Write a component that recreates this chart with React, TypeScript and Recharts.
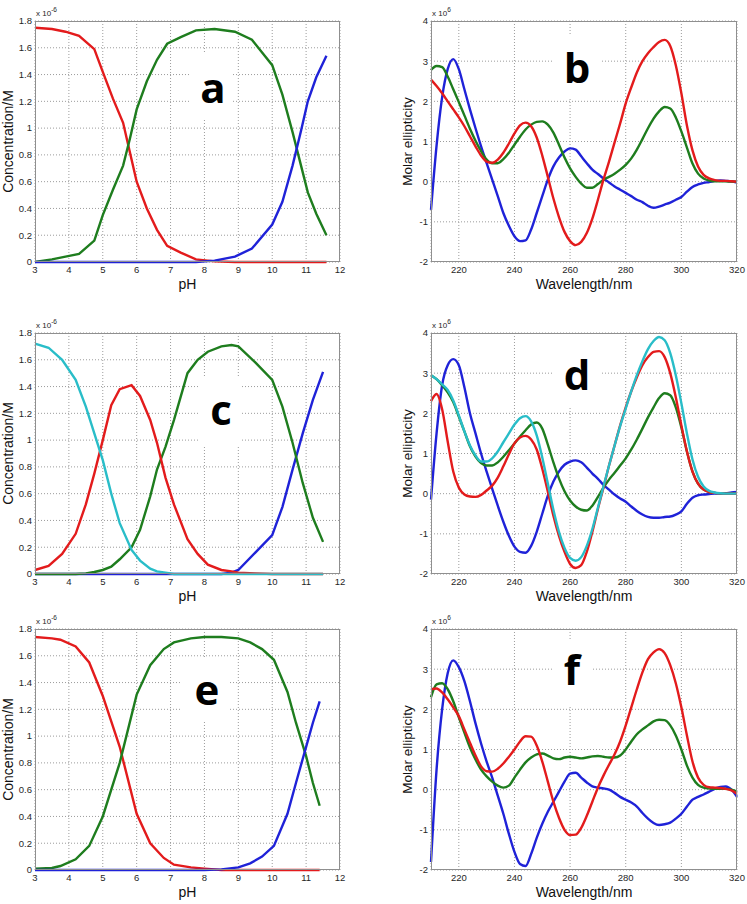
import { LineChart, Line, XAxis, YAxis, CartesianGrid } from "recharts";

// ── Colours ────────────────────────────────────────────────────────────
const RED = "#e31b1c";
const GREEN = "#1e7d1e";
const BLUE = "#1f22d8";
const CYAN = "#29bdc8";

// ── Axis ticks ─────────────────────────────────────────────────────────
const PH_TICKS = [3, 4, 5, 6, 7, 8, 9, 10, 11, 12];
const CONC_TICKS = [0, 0.2, 0.4, 0.6, 0.8, 1, 1.2, 1.4, 1.6, 1.8];
const WL_TICKS = [220, 240, 260, 280, 300, 320];
const ELL_TICKS = [-2, -1, 0, 1, 2, 3, 4];

// ── Panel a (speciation, concentration x 1e-6 M) ───────────────────────
const A_PH = [3, 3.5, 3.9, 4.3, 4.75, 5.0, 5.3, 5.6, 5.8, 6.0, 6.3, 6.6, 6.9, 7.3, 7.75, 8.3, 8.9, 9.4, 10.0, 10.3, 10.6, 10.85, 11.05, 11.3, 11.6];
const A_RED = [1.75, 1.74, 1.72, 1.69, 1.59, 1.42, 1.22, 1.04, 0.82, 0.6, 0.4, 0.24, 0.12, 0.07, 0.02, 0.005, 0, 0, 0, 0, 0, 0, 0, 0, 0];
const A_GREEN = [0, 0.02, 0.04, 0.06, 0.16, 0.35, 0.54, 0.72, 0.92, 1.14, 1.35, 1.51, 1.63, 1.68, 1.73, 1.74, 1.72, 1.66, 1.47, 1.25, 0.97, 0.72, 0.52, 0.36, 0.2];
const A_BLUE = [0, 0, 0, 0, 0, 0, 0, 0, 0, 0, 0, 0, 0, 0, 0, 0.01, 0.04, 0.1, 0.28, 0.45, 0.72, 0.98, 1.2, 1.38, 1.54];

// ── Panel c ────────────────────────────────────────────────────────────
const C_PH = [3, 3.4, 3.8, 4.2, 4.5, 4.75, 5.0, 5.25, 5.5, 5.85, 6.1, 6.4, 6.6, 6.85, 7.1, 7.5, 7.8, 8.1, 8.5, 8.8, 9.0, 9.5, 10.0, 10.3, 10.6, 10.9, 11.2, 11.5];
const C_CYAN = [1.72, 1.69, 1.6, 1.45, 1.25, 1.05, 0.85, 0.6, 0.38, 0.18, 0.1, 0.04, 0.02, 0.01, 0, 0, 0, 0, 0, 0, 0, 0, 0, 0, 0, 0, 0, 0];
const C_RED = [0.03, 0.06, 0.15, 0.3, 0.52, 0.75, 1.0, 1.26, 1.38, 1.41, 1.33, 1.15, 0.98, 0.72, 0.52, 0.26, 0.15, 0.07, 0.03, 0.02, 0.01, 0.005, 0, 0, 0, 0, 0, 0];
const C_GREEN = [0, 0, 0, 0, 0.005, 0.015, 0.03, 0.055, 0.11, 0.2, 0.33, 0.58, 0.78, 0.95, 1.15, 1.5, 1.6, 1.66, 1.7, 1.71, 1.7, 1.58, 1.45, 1.25, 0.98, 0.68, 0.42, 0.24];
const C_BLUE = [0, 0, 0, 0, 0, 0, 0, 0, 0, 0, 0, 0, 0, 0, 0, 0, 0, 0, 0, 0.01, 0.03, 0.16, 0.29, 0.5, 0.78, 1.05, 1.3, 1.51];

// ── Panel e ────────────────────────────────────────────────────────────
const E_PH = [3, 3.5, 3.75, 4.2, 4.6, 5.0, 5.5, 6.0, 6.4, 6.8, 7.1, 7.6, 8.0, 8.5, 9.0, 9.35, 9.7, 10.05, 10.45, 10.7, 11.0, 11.2, 11.4];
const E_RED = [1.74, 1.73, 1.72, 1.67, 1.55, 1.3, 0.92, 0.42, 0.2, 0.09, 0.04, 0.02, 0.01, 0, 0, 0, 0, 0, 0, 0, 0, 0, 0];
const E_GREEN = [0.01, 0.015, 0.03, 0.08, 0.18, 0.4, 0.8, 1.31, 1.53, 1.65, 1.7, 1.73, 1.74, 1.74, 1.73, 1.7, 1.65, 1.57, 1.33, 1.1, 0.85, 0.65, 0.48];
const E_BLUE = [0, 0, 0, 0, 0, 0, 0, 0, 0, 0, 0, 0, 0, 0.005, 0.02, 0.05, 0.1, 0.18, 0.42, 0.65, 0.92, 1.1, 1.26];

// ── CD spectra (molar ellipticity x 1e6), 2 nm steps ───────────────────
const WL = [210, 212, 214, 216, 218, 220, 222, 224, 226, 228, 230, 232, 234, 236, 238, 240, 242, 244, 246, 248, 250, 252, 254, 256, 258, 260, 262, 264, 266, 268, 270, 272, 274, 276, 278, 280, 282, 284, 286, 288, 290, 292, 294, 296, 298, 300, 302, 304, 306, 308, 310, 312, 314, 316, 318, 320];

const B_BLUE = [-0.7, 0.9, 2.1, 2.8, 3.05, 2.8, 2.3, 1.8, 1.33, 0.88, 0.46, 0.05, -0.36, -0.78, -1.1, -1.36, -1.48, -1.46, -1.19, -0.78, -0.36, 0.05, 0.38, 0.6, 0.75, 0.83, 0.8, 0.63, 0.46, 0.3, 0.19, 0.08, -0.02, -0.12, -0.2, -0.28, -0.36, -0.45, -0.51, -0.6, -0.65, -0.62, -0.57, -0.52, -0.45, -0.38, -0.25, -0.13, -0.07, -0.03, -0.01, 0.02, 0.03, 0.02, 0.01, -0.02];
const B_RED = [2.54, 2.38, 2.2, 2.0, 1.8, 1.6, 1.38, 1.13, 0.88, 0.65, 0.5, 0.47, 0.55, 0.72, 0.95, 1.2, 1.4, 1.47, 1.38, 1.1, 0.65, 0.12, -0.42, -0.88, -1.25, -1.48, -1.58, -1.5, -1.28, -0.92, -0.45, 0.05, 0.5, 0.98, 1.45, 1.95, 2.35, 2.72, 3.0, 3.2, 3.35, 3.48, 3.53, 3.38, 2.9, 2.2, 1.4, 0.78, 0.38, 0.17, 0.08, 0.04, 0.02, 0.02, 0.01, 0];
const B_GREEN = [2.78, 2.88, 2.85, 2.62, 2.3, 1.98, 1.65, 1.32, 1.02, 0.76, 0.55, 0.46, 0.46, 0.56, 0.72, 0.92, 1.12, 1.3, 1.42, 1.49, 1.5, 1.42, 1.22, 0.92, 0.6, 0.33, 0.12, -0.05, -0.15, -0.15, -0.06, 0.05, 0.12, 0.2, 0.3, 0.42, 0.58, 0.8, 1.06, 1.33, 1.57, 1.75, 1.86, 1.82, 1.6, 1.25, 0.85, 0.45, 0.2, 0.08, 0.03, 0.01, 0.01, 0.01, 0, 0];

const D_BLUE = [-0.15, 1.5, 2.7, 3.2, 3.35, 3.2, 2.65, 2.0, 1.5, 1.0, 0.55, 0.12, -0.3, -0.7, -1.05, -1.32, -1.45, -1.47, -1.3, -0.95, -0.5, -0.05, 0.3, 0.55, 0.72, 0.8, 0.83, 0.78, 0.65, 0.5, 0.37, 0.22, 0.1, -0.02, -0.12, -0.2, -0.32, -0.43, -0.52, -0.58, -0.6, -0.6, -0.58, -0.57, -0.52, -0.44, -0.25, -0.1, -0.04, -0.02, -0.01, 0, 0, 0.01, 0.03, 0.04];
const D_RED = [2.3, 2.48, 2.1, 1.3, 0.55, 0.15, -0.02, -0.07, -0.08, -0.03, 0.08, 0.2, 0.4, 0.68, 0.98, 1.25, 1.4, 1.44, 1.35, 1.1, 0.62, 0.05, -0.55, -1.05, -1.45, -1.75, -1.85, -1.78, -1.45, -0.95, -0.38, 0.15, 0.7, 1.2, 1.7, 2.15, 2.55, 2.9, 3.2, 3.4, 3.53, 3.55, 3.4, 3.0, 2.4, 1.7, 1.05, 0.55, 0.25, 0.1, 0.04, 0.02, 0.01, 0, 0, 0];
const D_CYAN = [2.95, 2.85, 2.72, 2.58, 2.32, 1.95, 1.55, 1.2, 0.95, 0.8, 0.8, 0.88, 1.05, 1.28, 1.5, 1.72, 1.88, 1.93, 1.8, 1.45, 0.9, 0.25, -0.4, -0.95, -1.35, -1.6, -1.67, -1.58, -1.3, -0.88, -0.35, 0.18, 0.7, 1.2, 1.68, 2.12, 2.55, 2.95, 3.3, 3.6, 3.8, 3.9, 3.82, 3.5, 2.95, 2.25, 1.5, 0.85, 0.42, 0.18, 0.07, 0.03, 0.01, 0, 0, 0];
const D_GREEN = [2.95, 2.85, 2.7, 2.52, 2.28, 1.92, 1.55, 1.18, 0.92, 0.76, 0.7, 0.7, 0.78, 0.92, 1.08, 1.25, 1.42, 1.58, 1.72, 1.77, 1.62, 1.22, 0.78, 0.38, 0.06, -0.17, -0.32, -0.4, -0.42, -0.3, -0.08, 0.15, 0.35, 0.52, 0.7, 0.88, 1.1, 1.35, 1.62, 1.9, 2.15, 2.38, 2.5, 2.45, 2.15, 1.65, 1.05, 0.55, 0.25, 0.1, 0.04, 0.02, 0.01, 0, 0, 0];

const F_BLUE = [-1.8, 0.5, 2.0, 2.9, 3.22, 3.05, 2.7, 2.2, 1.65, 1.15, 0.7, 0.3, -0.15, -0.6, -1.1, -1.55, -1.85, -1.9, -1.6, -1.2, -0.85, -0.55, -0.3, -0.05, 0.2, 0.4, 0.42, 0.3, 0.18, 0.08, 0.05, 0.03, 0, -0.08, -0.18, -0.25, -0.32, -0.42, -0.58, -0.72, -0.83, -0.88, -0.86, -0.82, -0.72, -0.6, -0.42, -0.25, -0.18, -0.12, -0.05, 0.02, 0.07, 0.08, 0, -0.18];
const F_RED = [2.5, 2.52, 2.42, 2.25, 2.05, 1.83, 1.5, 1.17, 0.85, 0.58, 0.46, 0.45, 0.52, 0.65, 0.82, 1.0, 1.2, 1.33, 1.32, 1.1, 0.7, 0.2, -0.3, -0.7, -1.0, -1.13, -1.12, -0.95, -0.65, -0.3, 0.05, 0.35, 0.62, 0.88, 1.2, 1.6, 2.05, 2.5, 2.92, 3.25, 3.42, 3.5, 3.4, 3.1, 2.65, 2.05, 1.35, 0.7, 0.3, 0.12, 0.06, 0.05, 0.04, 0.02, -0.02, -0.1];
const F_GREEN = [2.3, 2.62, 2.65, 2.5, 2.2, 1.8, 1.42, 1.05, 0.75, 0.5, 0.33, 0.2, 0.1, 0.05, 0.1, 0.3, 0.5, 0.68, 0.8, 0.88, 0.9, 0.85, 0.78, 0.76, 0.8, 0.82, 0.8, 0.78, 0.8, 0.83, 0.84, 0.82, 0.8, 0.8, 0.85, 1.0, 1.2, 1.38, 1.5, 1.6, 1.7, 1.74, 1.73, 1.6, 1.35, 1.0, 0.6, 0.3, 0.12, 0.05, 0.03, 0.02, 0.02, 0.02, 0, -0.05];

// ── Types ──────────────────────────────────────────────────────────────
type Series = { key: string; color: string; values: number[] };
type Box = { x: number; y: number; w: number; h: number };
type PanelDef = {
  letter: string;
  left: number; top: number; w: number; h: number;
  xs: number[];
  series: Series[];
  spectrum: boolean;
  box: Box;
  letterX: number; letterY: number;
};

const PANELS: PanelDef[] = [
  {
    letter: "a", left: 35, top: 21, w: 305, h: 241, xs: A_PH, spectrum: false,
    series: [
      { key: "red", color: RED, values: A_RED },
      { key: "green", color: GREEN, values: A_GREEN },
      { key: "blue", color: BLUE, values: A_BLUE },
    ],
    box: { x: 190, y: 52, w: 41, h: 66 }, letterX: 213, letterY: 103,
  },
  {
    letter: "b", left: 431, top: 21, w: 306, h: 241, xs: WL, spectrum: true,
    series: [
      { key: "blue", color: BLUE, values: B_BLUE },
      { key: "green", color: GREEN, values: B_GREEN },
      { key: "red", color: RED, values: B_RED },
    ],
    box: { x: 552, y: 36, w: 50, h: 62 }, letterX: 577, letterY: 83,
  },
  {
    letter: "c", left: 35, top: 333, w: 305, h: 241, xs: C_PH, spectrum: false,
    series: [
      { key: "blue", color: BLUE, values: C_BLUE },
      { key: "green", color: GREEN, values: C_GREEN },
      { key: "red", color: RED, values: C_RED },
      { key: "cyan", color: CYAN, values: C_CYAN },
    ],
    box: { x: 200, y: 376, w: 42, h: 70 }, letterX: 221, letterY: 425,
  },
  {
    letter: "d", left: 431, top: 333, w: 306, h: 241, xs: WL, spectrum: true,
    series: [
      { key: "blue", color: BLUE, values: D_BLUE },
      { key: "green", color: GREEN, values: D_GREEN },
      { key: "red", color: RED, values: D_RED },
      { key: "cyan", color: CYAN, values: D_CYAN },
    ],
    box: { x: 552, y: 336, w: 50, h: 72 }, letterX: 577, letterY: 390,
  },
  {
    letter: "e", left: 35, top: 629, w: 305, h: 241, xs: E_PH, spectrum: false,
    series: [
      { key: "red", color: RED, values: E_RED },
      { key: "green", color: GREEN, values: E_GREEN },
      { key: "blue", color: BLUE, values: E_BLUE },
    ],
    box: { x: 182, y: 658, w: 48, h: 64 }, letterX: 207, letterY: 705,
  },
  {
    letter: "f", left: 431, top: 629, w: 306, h: 241, xs: WL, spectrum: true,
    series: [
      { key: "blue", color: BLUE, values: F_BLUE },
      { key: "green", color: GREEN, values: F_GREEN },
      { key: "red", color: RED, values: F_RED },
    ],
    box: { x: 552, y: 640, w: 40, h: 66 }, letterX: 572, letterY: 685,
  },
];

// ── Layout constants ───────────────────────────────────────────────────
const YW = 34;   // y-axis width
const MT = 10;   // top margin (room for the top tick label)
const MR = 14;   // right margin (room for the last tick label)
const XH = 16;   // x-axis height
const FONT = "'Liberation Sans', Arial, sans-serif";
const TICK = { fontSize: 9.5, fill: "#262626", fontFamily: FONT };

function buildRows(xs: number[], series: Series[]) {
  return xs.map((x, i) => {
    const row: Record<string, number> = { x };
    series.forEach((s) => { row[s.key] = s.values[i]; });
    return row;
  });
}

// ── One matlab-style panel ─────────────────────────────────────────────
function Panel({ p }: { p: PanelDef }) {
  const data = buildRows(p.xs, p.series);
  return (
    <div style={{ position: "absolute", left: p.left - YW, top: p.top - MT }}>
      <LineChart
        width={YW + p.w + MR}
        height={MT + p.h + XH}
        data={data}
        margin={{ top: MT, right: MR, left: 0, bottom: 0 }}
      >
        <CartesianGrid stroke="#9c9c9c" strokeDasharray="1 2" />
        <XAxis
          dataKey="x" type="number"
          domain={p.spectrum ? [210, 320] : [3, 12]}
          ticks={p.spectrum ? WL_TICKS : PH_TICKS}
          interval={0} height={XH}
          axisLine={false} tickLine={false} tickSize={3} tickMargin={1}
          tick={TICK}
        />
        <YAxis
          type="number"
          domain={p.spectrum ? [-2, 4] : [0, 1.8]}
          ticks={p.spectrum ? ELL_TICKS : CONC_TICKS}
          interval={0} width={YW}
          axisLine={false} tickLine={false} tickSize={2} tickMargin={1}
          tick={TICK}
        />
        {p.series.map((s) => (
          <Line
            key={s.key} dataKey={s.key} stroke={s.color} strokeWidth={2.4}
            type={p.spectrum ? "monotone" : "linear"} dot={false} activeDot={false}
            isAnimationActive={false}
          />
        ))}
      </LineChart>
    </div>
  );
}

// ── Text overlay: frames, axis titles, exponents, panel letters ────────
function Overlay() {
  return (
    <svg width={747} height={904} style={{ position: "absolute", left: 0, top: 0, pointerEvents: "none" }}>
      {PANELS.map((p) => {
        const yLabelX = p.spectrum ? 407 : 8.5;
        return (
          <g key={p.letter}>
            <rect x={p.left + 0.5} y={p.top + 0.5} width={p.w - 1} height={p.h - 1} fill="none" stroke="#8f8f8f" strokeWidth={1} />
            <text
              transform={`translate(${yLabelX},${p.top + p.h / 2}) rotate(-90)`}
              textAnchor="middle" dy="0.35em" fontSize={p.spectrum ? 13.5 : 14}
              fontFamily={FONT} fill="#111"
            >
              {p.spectrum ? "Molar ellipticity" : "Concentration/M"}
            </text>
            <text x={p.left + p.w / 2} y={p.top + p.h + 27} textAnchor="middle" fontSize={14} fontFamily={FONT} fill="#111">
              {p.spectrum ? "Wavelength/nm" : "pH"}
            </text>
            <text x={p.left + 1} y={p.top - 5} fontSize={8} fontFamily={FONT} fill="#262626">
              x 10<tspan dy={-4} fontSize={6.5}>{p.spectrum ? "6" : "-6"}</tspan>
            </text>
            <rect x={p.box.x} y={p.box.y} width={p.box.w} height={p.box.h} fill="#fff" />
            <text x={p.letterX} y={p.letterY} textAnchor="middle" fontSize={42} fontWeight={700} fontFamily="'Open Sans', sans-serif" fill="#000">
              {p.letter}
            </text>
          </g>
        );
      })}
    </svg>
  );
}

export default function App() {
  return (
    <div style={{ position: "absolute", left: 0, top: 0, width: 747, height: 904, background: "#fff", overflow: "hidden" }}>
      {PANELS.map((p) => <Panel key={p.letter} p={p} />)}
      <Overlay />
    </div>
  );
}
